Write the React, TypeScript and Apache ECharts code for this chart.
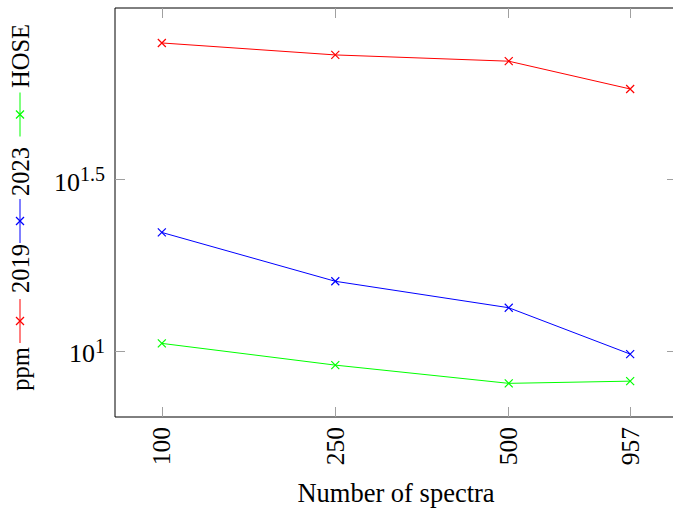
import React, { useEffect, useRef } from "react";
import * as echarts from "echarts";

// Data
const spectraCounts = ["100", "250", "500", "957"];
const xPositions = [1, 2, 3, 3.7];
const series2019 = [79.1, 73.0, 70.0, 58.1];
const series2023 = [22.2, 16.0, 13.4, 9.82];
const seriesHOSE = [10.55, 9.12, 8.07, 8.19];
const yTickExponents = [1, 1.5];
const seriesNames = ["2019", "2023", "HOSE"];
const seriesColors = ["#ff0000", "#0000ff", "#00ff00"];
const xAxisTitle = "Number of spectra";
const yAxisTitle = "ppm";

const FONT = "'Liberation Serif', 'Times New Roman', serif";

export default function App() {
  const ref = useRef<HTMLDivElement>(null);

  useEffect(() => {
    if (!ref.current) return;
    const chart = echarts.init(ref.current, null, { renderer: "svg" });
    const yTickValues = yTickExponents.map((e) => Math.pow(10, e));
    const allSeries = [series2019, series2023, seriesHOSE];

    const xLabel = (v: number) => {
      const i = xPositions.indexOf(v);
      return i >= 0 ? spectraCounts[i] : "";
    };
    const yLabel = (v: number) => {
      const e = Math.round(Math.log10(v) * 10) / 10;
      return `{b|10}{s|${e}}`;
    };

    const tickStyle = { color: "#a0a0a0", width: 1 };
    const xCommon = {
      type: "value",
      min: 0.73,
      max: 3.97,
      axisLine: { show: false },
      splitLine: { show: false },
    };
    const yCommon = {
      type: "log",
      logBase: 10,
      min: 6.44,
      max: 100,
      axisLine: { show: false },
      splitLine: { show: false },
    };

    // Legend inside rotated y-axis label
    const lx = 20;
    const graphics: any[] = [];
    const rotText = (text: string, cy: number) => ({
      type: "text",
      x: lx,
      y: cy,
      rotation: Math.PI / 2,
      silent: true,
      style: {
        text,
        fill: "#000",
        font: `24.5px ${FONT}`,
        textAlign: "center",
        textVerticalAlign: "middle",
      },
    });
    graphics.push(rotText(yAxisTitle, 369));
    const lineCenters = [321, 221, 114.5];
    const textCenters = [268.5, 171.5, 56];
    seriesNames.forEach((name, i) => {
      const c = lineCenters[i];
      const col = seriesColors[i];
      graphics.push({
        type: "line",
        silent: true,
        shape: { x1: lx, y1: c - 22, x2: lx, y2: c + 22 },
        style: { stroke: col, lineWidth: 1 },
      });
      graphics.push({
        type: "line",
        silent: true,
        shape: { x1: lx - 4, y1: c - 4, x2: lx + 4, y2: c + 4 },
        style: { stroke: col, lineWidth: 1.2 },
      });
      graphics.push({
        type: "line",
        silent: true,
        shape: { x1: lx - 4, y1: c + 4, x2: lx + 4, y2: c - 4 },
        style: { stroke: col, lineWidth: 1.2 },
      });
      graphics.push(rotText(name, textCenters[i]));
    });

    chart.setOption({
      animation: false,
      backgroundColor: "#fff",
      grid: {
        left: 115,
        right: -4,
        top: 8,
        bottom: 91,
        show: true,
        borderColor: "#000",
        borderWidth: 1,
        backgroundColor: "transparent",
        outerBoundsMode: "none",
        containLabel: false,
      },
      xAxis: [
        {
          ...xCommon,
          position: "bottom",
          axisTick: {
            show: true,
            inside: true,
            length: 10,
            lineStyle: tickStyle,
            customValues: xPositions,
          },
          axisLabel: {
            show: true,
            rotate: 90,
            margin: 10,
            color: "#000",
            fontSize: 25.5,
            fontFamily: FONT,
            customValues: xPositions,
            formatter: xLabel,
            hideOverlap: false,
          },
          name: xAxisTitle,
          nameLocation: "middle",
          nameGap: 62,
          nameTextStyle: { color: "#000", fontSize: 26.5, fontFamily: FONT },
        },
        {
          ...xCommon,
          position: "top",
          axisTick: {
            show: true,
            inside: true,
            length: 10,
            lineStyle: tickStyle,
            customValues: xPositions,
          },
          axisLabel: { show: false },
        },
      ],
      yAxis: [
        {
          ...yCommon,
          position: "left",
          axisTick: {
            show: true,
            inside: true,
            length: 10,
            lineStyle: tickStyle,
            customValues: yTickValues,
          },
          axisLabel: {
            show: true,
            margin: 10,
            customValues: yTickValues,
            formatter: yLabel,
            rich: {
              b: {
                fontSize: 26,
                fontFamily: FONT,
                color: "#000",
                verticalAlign: "bottom",
                padding: [5, 0, 0, 0],
              },
              s: {
                fontSize: 20,
                fontFamily: FONT,
                color: "#000",
                verticalAlign: "top",
              },
            },
          },
        },
        {
          ...yCommon,
          position: "right",
          axisTick: {
            show: true,
            inside: true,
            length: 10,
            lineStyle: tickStyle,
            customValues: yTickValues,
          },
          axisLabel: { show: false },
        },
      ],
      series: seriesNames.map((name, i) => ({
        name,
        type: "line",
        xAxisIndex: 0,
        yAxisIndex: 0,
        data: xPositions.map((x, j) => [x, allSeries[i][j]]),
        symbol: "path://M0,0L10,10M10,0L0,10",
        symbolSize: 8,
        lineStyle: { color: seriesColors[i], width: 1 },
        itemStyle: {
          color: seriesColors[i],
          borderColor: seriesColors[i],
          borderWidth: 1.2,
        },
        emphasis: { disabled: true },
        silent: true,
      })),
      graphic: graphics,
    });

    return () => chart.dispose();
  }, []);

  return (
    <div
      ref={ref}
      style={{ position: "fixed", left: 0, top: 0, width: 673, height: 508 }}
    />
  );
}
